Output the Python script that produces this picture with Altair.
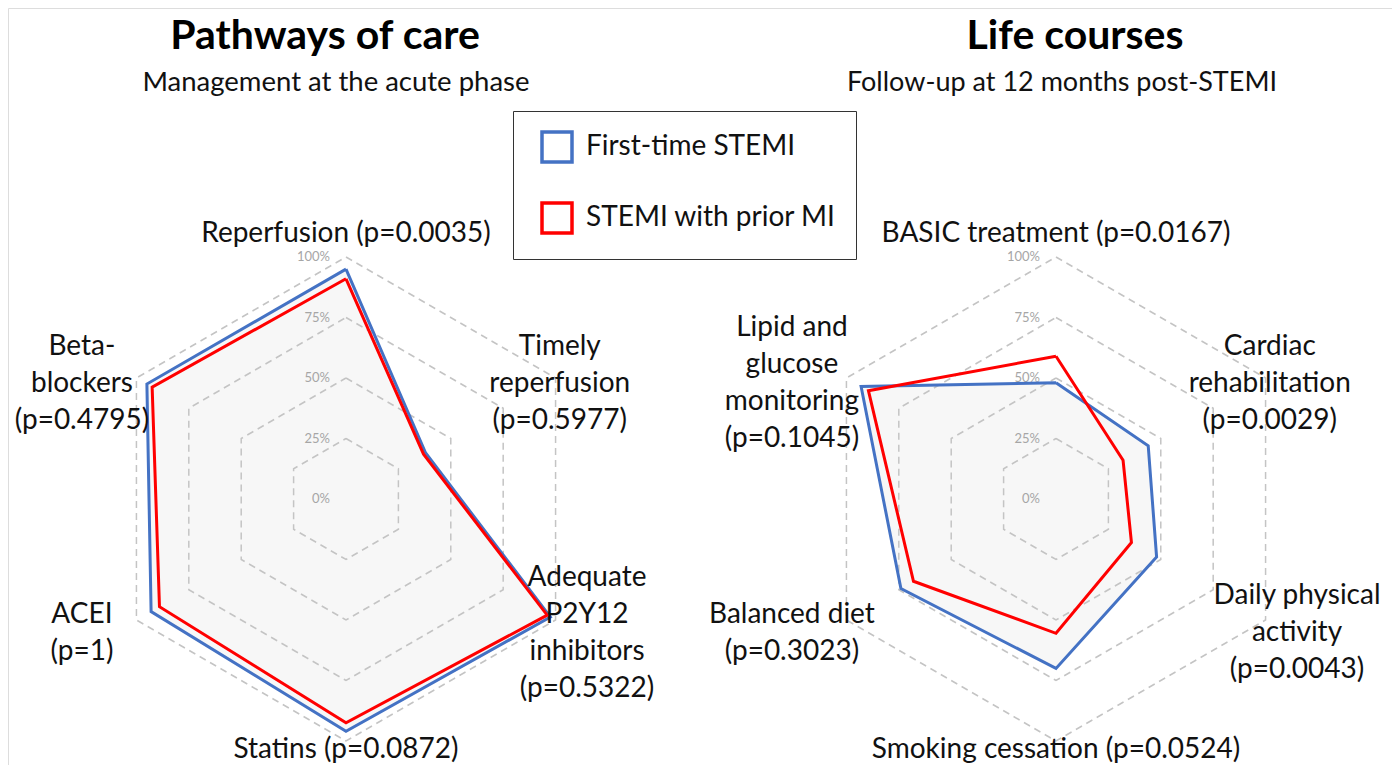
import altair as alt
import pandas as pd

# ---------------- data ----------------
series_names = ["First-time STEMI", "STEMI with prior MI"]
series_colors = ["#4472C4", "#FF0000"]

panel_keys = ["care", "life"]
panel_titles = ["Pathways of care", "Life courses"]
panel_subtitles = ["Management at the acute phase", "Follow-up at 12 months post-STEMI"]

care_axes = [
    "Reperfusion (p=0.0035)",
    "Timely\nreperfusion\n(p=0.5977)",
    "Adequate\nP2Y12\ninhibitors\n(p=0.5322)",
    "Statins (p=0.0872)",
    "ACEI\n(p=1)",
    "Beta-\nblockers\n(p=0.4795)",
]
care_first = [95, 38, 97.5, 96, 93, 95]
care_prior = [91, 37, 96, 92.5, 89, 92.5]

life_axes = [
    "BASIC treatment (p=0.0167)",
    "Cardiac\nrehabilitation\n(p=0.0029)",
    "Daily physical\nactivity\n(p=0.0043)",
    "Smoking cessation (p=0.0524)",
    "Balanced diet\n(p=0.3023)",
    "Lipid and\nglucose\nmonitoring\n(p=0.1045)",
]
life_first = [48, 44, 48, 70, 74, 93]
life_prior = [59, 32, 36, 55.5, 68, 89.5]

grid_levels = [25, 50, 75, 100]
tick_values = [0, 25, 50, 75, 100]
tick_labels = ["0%", "25%", "50%", "75%", "100%"]

# ---------------- tables ----------------
axes_by_panel = {"care": care_axes, "life": life_axes}
vals_by_panel = {
    "care": [care_first, care_prior],
    "life": [life_first, life_prior],
}
N = 6

rows = []
for p in panel_keys:
    for s, vals in zip(series_names, vals_by_panel[p]):
        for i in range(N + 1):
            rows.append({"panel": p, "series": s, "idx": i, "value": vals[i % N]})
values_df = pd.DataFrame(rows)

grid_rows = []
for p in panel_keys:
    for lv in grid_levels:
        for i in range(N + 1):
            grid_rows.append({"panel": p, "level": lv, "idx": i, "value": lv})
grid_df = pd.DataFrame(grid_rows)

label_rows = []
for p in panel_keys:
    for i, lab in enumerate(axes_by_panel[p]):
        label_rows.append({"panel": p, "idx": i, "label": lab, "value": 100})
labels_df = pd.DataFrame(label_rows)

tick_rows = []
for p in panel_keys:
    for v, t in zip(tick_values, tick_labels):
        tick_rows.append({"panel": p, "idx": 0, "value": v, "text": t})
ticks_df = pd.DataFrame(tick_rows)

# ---------------- layout ----------------
W, H = 1384, 757
CY = 499
R = 242
LH = 37
FONT = "Lato"
cx_expr = "(datum.panel === 'care' ? 346 : 1056)"
ang = "(datum.idx * PI / 3)"

xs = alt.Scale(domain=[8, 8 + W], nice=False, zero=False)
ys = alt.Scale(domain=[8, 8 + H], nice=False, zero=False, reverse=True)


def polar(ch):
    return ch.transform_calculate(
        px=f"{cx_expr} + {R} * datum.value / 100 * sin({ang})",
        py=f"{CY} - {R} * datum.value / 100 * cos({ang})",
    )


X = alt.X("px:Q", scale=xs, axis=None)
Y = alt.Y("py:Q", scale=ys, axis=None)

fill_layer = polar(
    alt.Chart(values_df[values_df.series == series_names[0]])
    .mark_line(fill="#f7f7f7", strokeWidth=0, strokeOpacity=0)
).encode(x=X, y=Y, order="idx:Q", detail="panel:N")

grid_layer = polar(
    alt.Chart(grid_df).mark_line(
        stroke="#c4c4c4", strokeWidth=1.5, strokeDash=[7, 5]
    )
).encode(x=X, y=Y, order="idx:Q", detail=["panel:N", "level:N"])

line_layer = polar(
    alt.Chart(values_df).mark_line(strokeWidth=3, strokeJoin="miter")
).encode(
    x=X,
    y=Y,
    order="idx:Q",
    detail="panel:N",
    color=alt.Color(
        "series:N",
        scale=alt.Scale(domain=series_names, range=series_colors),
        sort=series_names,
        legend=alt.Legend(
            title=None,
            orient="none",
            legendX=505,
            legendY=103,
            symbolType="square",
            symbolSize=900,
            symbolStrokeWidth=3.5,
            symbolFillColor="white",
            symbolOffset=8,
            labelFont=FONT,
            labelFontSize=28,
            labelColor="#111111",
            labelOffset=12,
            labelLimit=0,
            rowPadding=27,
            padding=19,
            strokeColor="#333333",
            fillColor="white",
        ),
    ),
)

tick_layer = polar(
    alt.Chart(ticks_df).mark_text(
        align="right", baseline="middle", dx=-16, font=FONT, fontSize=13, color="#a6a6a6"
    )
).encode(x=X, y=Y, text="text:N")

label_layer = (
    alt.Chart(labels_df)
    .transform_calculate(
        s=f"sin({ang})",
        c=f"cos({ang})",
        nl="split(datum.label, '\\n').length",
    )
    .transform_calculate(
        fx="abs(datum.s) < 0.01 ? 0 : (datum.s > 0 ? (datum.c > 0 ? 1.02 : 1.15) : 1.26)",
        fy="abs(datum.s) < 0.01 ? (datum.c > 0 ? 1.095 : 1.037) : 1.03",
        sh="abs(datum.s) < 0.01 ? 0 : 9.5",
    )
    .transform_calculate(
        px=f"{cx_expr} + {R} * datum.s * datum.fx",
        py=f"{CY} - {R} * datum.c * datum.fy + datum.sh - (datum.nl - 1) * {LH} / 2",
    )
    .mark_text(
        align="center", baseline="middle", font=FONT, fontSize=28,
        lineHeight=LH, lineBreak="\n", color="#111111"
    )
    .encode(x=X, y=Y, text="label:N")
)

titles_df = pd.DataFrame({"panel": panel_keys, "title": panel_titles, "subtitle": panel_subtitles})

title_care = alt.Chart(titles_df[titles_df.panel == "care"]).mark_text(
    font=FONT, fontSize=41, fontWeight="bold", align="center", baseline="alphabetic", color="black"
).encode(x=alt.value(325 - 8), y=alt.value(49 - 8), text="title:N")
title_life = alt.Chart(titles_df[titles_df.panel == "life"]).mark_text(
    font=FONT, fontSize=41, fontWeight="bold", align="center", baseline="alphabetic", color="black"
).encode(x=alt.value(1075 - 8), y=alt.value(49 - 8), text="title:N")
sub_care = alt.Chart(titles_df[titles_df.panel == "care"]).mark_text(
    font=FONT, fontSize=27.5, align="center", baseline="alphabetic", color="#111111"
).encode(x=alt.value(336 - 8), y=alt.value(91 - 8), text="subtitle:N")
sub_life = alt.Chart(titles_df[titles_df.panel == "life"]).mark_text(
    font=FONT, fontSize=27, align="center", baseline="alphabetic", color="#111111"
).encode(x=alt.value(1062 - 8), y=alt.value(91 - 8), text="subtitle:N")

chart = (
    alt.layer(
        fill_layer, grid_layer, tick_layer, line_layer, label_layer,
        title_care, title_life, sub_care, sub_life,
    )
    .properties(width=W, height=H, padding=0, autosize=alt.AutoSizeParams(type="none"))
    .configure_view(strokeWidth=0, stroke="transparent")
    .configure(background="white")
)

chart.save("out.html", embed_options={"renderer": "svg", "actions": False})
